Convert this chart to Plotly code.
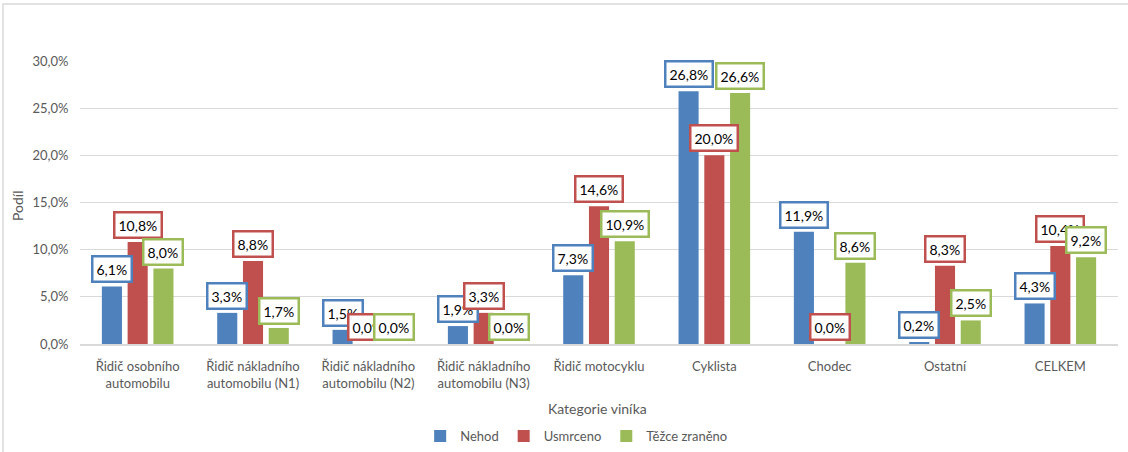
import plotly.graph_objects as go

# Kategorie viníka a podíly (v procentech)
kategorie = [
    "Řidič osobního<br>automobilu",
    "Řidič nákladního<br>automobilu (N1)",
    "Řidič nákladního<br>automobilu (N2)",
    "Řidič nákladního<br>automobilu (N3)",
    "Řidič motocyklu",
    "Cyklista",
    "Chodec",
    "Ostatní",
    "CELKEM",
]
nehod = [6.1, 3.3, 1.5, 1.9, 7.3, 26.8, 11.9, 0.2, 4.3]
usmrceno = [10.8, 8.8, 0.0, 3.3, 14.6, 20.0, 0.0, 8.3, 10.4]
tezce = [8.0, 1.7, 0.0, 0.0, 10.9, 26.6, 8.6, 2.5, 9.2]

serie = [
    ("Nehod", nehod, "#4f81bd"),
    ("Usmrceno", usmrceno, "#c0504d"),
    ("Těžce zraněno", tezce, "#9bbb59"),
]

font = "Lato, 'Open Sans', sans-serif"
gray = "#595959"
bargap = 0.33

fig = go.Figure()
for name, vals, col in serie:
    fig.add_trace(go.Bar(
        x=list(range(len(kategorie))),
        y=[v / 100 for v in vals],
        name=name,
        marker=dict(color=col, line=dict(width=0)),
    ))

# data labels in bordered boxes (like Excel)
ann = []
n = len(serie)
slot = (1 - bargap) / n
for j, (name, vals, col) in enumerate(serie):
    off = (j - (n - 1) / 2) * slot
    for i, v in enumerate(vals):
        ann.append(dict(
            x=i + off, y=v / 100, xref="x", yref="y",
            text=f"{v:.1f}%".replace(".", ","),
            showarrow=False, yanchor="bottom", yshift=3,
            font=dict(family=font, size=14, color="#000000"),
            bgcolor="white", bordercolor=col, borderwidth=2.5, borderpad=3,
        ))

ann.append(dict(
    x=0.499, y=-0.227, xref="paper", yref="paper",
    xanchor="center", yanchor="middle",
    text="Kategorie viníka", showarrow=False,
    font=dict(family=font, size=14, color=gray),
))
ann.append(dict(
    x=-0.06, y=0.49, xref="paper", yref="paper",
    xanchor="center", yanchor="middle",
    text="Podíl", showarrow=False, textangle=-90,
    font=dict(family=font, size=14, color=gray),
))

fig.update_layout(
    width=1128, height=452,
    margin=dict(l=80, r=10, t=61, b=108, autoexpand=False),
    paper_bgcolor="white", plot_bgcolor="white",
    separators=", ",
    barmode="group", bargap=bargap, bargroupgap=0.22,
    font=dict(family=font, size=12, color=gray),
    annotations=ann,
    legend=dict(
        orientation="h", xanchor="center", x=0.478,
        yanchor="middle", y=-0.325,
        font=dict(family=font, size=13, color=gray),
        itemwidth=30, tracegroupgap=0,
    ),
    shapes=[dict(
        type="rect", xref="paper", yref="paper",
        x0=(3 - 80) / 1038, x1=(1160 - 80) / 1038,
        y0=(344 - 470) / 283, y1=(344 - 4) / 283,
        line=dict(color="#d9d9d9", width=1.5), layer="below",
    )],
)

fig.update_xaxes(
    tickmode="array", tickvals=list(range(len(kategorie))), ticktext=kategorie,
    range=[-0.5, len(kategorie) - 0.5], automargin=False,
    showline=True, linecolor="#d9d9d9", linewidth=1.5,
    ticks="outside", ticklen=10, tickcolor="rgba(0,0,0,0)",
    tickfont=dict(family=font, size=13, color=gray),
    showgrid=False,
)
fig.update_yaxes(
    range=[0, 0.30], dtick=0.05, tickformat=".1%", automargin=False,
    showgrid=True, gridcolor="#d9d9d9", gridwidth=1,
    zeroline=False, ticks="outside", ticklen=8, tickcolor="rgba(0,0,0,0)",
    tickfont=dict(family=font, size=13, color=gray),
)

fig.write_html("out.html", config={"displayModeBar": False},
               post_script="document.body.style.margin='0';")
